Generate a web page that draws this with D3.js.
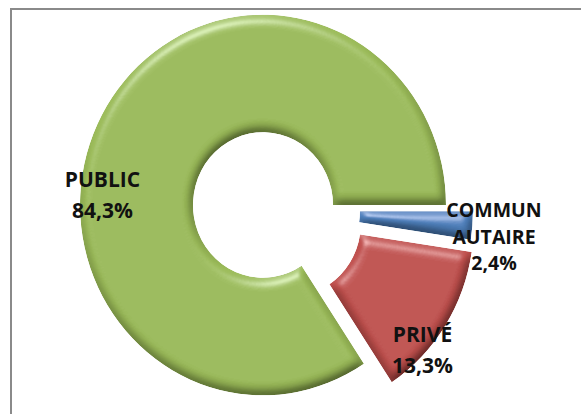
<!DOCTYPE html>
<html>
<head>
<meta charset="utf-8">
<style>
  body { margin: 0; background: #fff; }
  .lbl text { font-family: "Open Sans", sans-serif; font-weight: bold; fill: #111; }
</style>
<script src="https://d3js.org/d3.v7.min.js"></script>
</head>
<body>
<svg width="581" height="414"></svg>
<script>
// data
var categories = ["COMMUNAUTAIRE", "PRIVÉ", "PUBLIC"];
var values = [2.4, 13.3, 84.3];
var labelLines = [["COMMUN", "AUTAIRE", "2,4%"], ["PRIVÉ", "13,3%"], ["PUBLIC", "84,3%"]];

var colors = { "COMMUNAUTAIRE": "#4f81bd", "PRIVÉ": "#c0504d", "PUBLIC": "#9bbb59" };
// how far each slice is pulled out
var explode = { "COMMUNAUTAIRE": 27, "PRIVÉ": 33, "PUBLIC": 0 };
// label first-line baseline, offset from pie centre
var labelPos = { "COMMUNAUTAIRE": [231, 12], "PRIVÉ": [159.5, 137], "PUBLIC": [-160.5, -18] };

var svg = d3.select("svg");
var cx = 263, cy = 205, outerR = 183, innerR = 70, sy = 1.04;

// chart frame
svg.append("rect")
  .attr("x", 11).attr("y", 9)
  .attr("width", 620).attr("height", 440)
  .attr("fill", "none")
  .attr("stroke", "#8a8a8a")
  .attr("stroke-width", 2);

var defs = svg.append("defs");
var f = defs.append("filter").attr("id", "bevel")
  .attr("x", "-10%").attr("y", "-10%").attr("width", "120%").attr("height", "120%");
f.append("feGaussianBlur").attr("in", "SourceAlpha").attr("stdDeviation", 5).attr("result", "blur");
f.append("feDiffuseLighting").attr("in", "blur").attr("surfaceScale", 6)
  .attr("diffuseConstant", 1.15).attr("lighting-color", "#fff").attr("result", "diff")
  .append("feDistantLight").attr("azimuth", 250).attr("elevation", 58);
f.append("feComposite").attr("in", "SourceGraphic").attr("in2", "diff")
  .attr("operator", "arithmetic").attr("k1", 1).attr("k2", 0).attr("k3", 0).attr("k4", 0)
  .attr("result", "lit");
f.append("feSpecularLighting").attr("in", "blur").attr("surfaceScale", 6)
  .attr("specularConstant", 0.35).attr("specularExponent", 28)
  .attr("lighting-color", "#fff").attr("result", "spec")
  .append("feDistantLight").attr("azimuth", 250).attr("elevation", 40);
f.append("feComposite").attr("in", "spec").attr("in2", "SourceAlpha").attr("operator", "in").attr("result", "specIn");
f.append("feComposite").attr("in", "lit").attr("in2", "specIn")
  .attr("operator", "arithmetic").attr("k1", 0).attr("k2", 1).attr("k3", 1).attr("k4", 0)
  .attr("result", "out");
f.append("feComposite").attr("in", "out").attr("in2", "SourceAlpha").attr("operator", "in");

var data = categories.map(function (c, i) { return { cat: c, value: values[i], lines: labelLines[i] }; });

var pie = d3.pie().sort(null)
  .startAngle(Math.PI / 2).endAngle(Math.PI / 2 + 2 * Math.PI)
  .value(function (d) { return d.value; });

var arc = d3.arc().innerRadius(innerR).outerRadius(outerR);

var g = svg.append("g")
  .attr("transform", "translate(" + cx + "," + cy + ") scale(1," + sy + ")");

g.selectAll("path")
  .data(pie(data))
  .enter().append("path")
  .attr("d", arc)
  .attr("fill", function (d) { return colors[d.data.cat]; })
  .attr("filter", "url(#bevel)")
  .attr("transform", function (d) {
    var a = (d.startAngle + d.endAngle) / 2, e = explode[d.data.cat];
    return "translate(" + (Math.sin(a) * e) + "," + (-Math.cos(a) * e + (d.data.cat === "COMMUNAUTAIRE" ? 4 : 0)) + ")";
  });

var lbl = svg.append("g").attr("class", "lbl")
  .attr("transform", "translate(" + cx + "," + cy + ")");

data.forEach(function (d) {
  var p = labelPos[d.cat];
  var big = d.cat !== "COMMUNAUTAIRE";
  var fs = big ? 21 : 19.5, lh = big ? 31 : 26.5;
  var t = lbl.append("text")
    .attr("text-anchor", "middle")
    .attr("font-size", fs);
  d.lines.forEach(function (s, i) {
    t.append("tspan")
      .attr("x", p[0])
      .attr("y", p[1] + i * lh)
      .text(s);
  });
});
</script>
</body>
</html>
